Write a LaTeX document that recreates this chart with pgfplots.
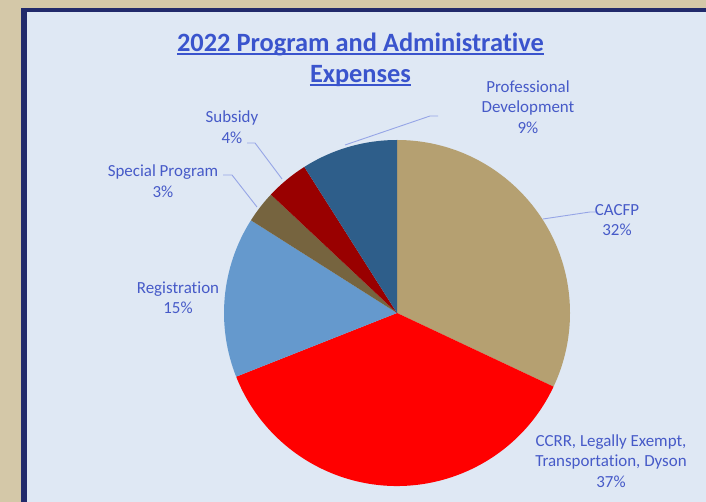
\documentclass[border=0pt]{standalone}
\usepackage{pgfplots}
\pgfplotsset{compat=1.18}
\usepackage{pgfplotstable}
\usepackage{fontspec}
\setmainfont{Carlito}[Ligatures=CommonOff]

\definecolor{frame}{RGB}{212,200,168}
\definecolor{navy}{RGB}{33,42,107}
\definecolor{panel}{RGB}{223,232,244}
\definecolor{titleblue}{RGB}{58,84,205}
\definecolor{labelblue}{RGB}{70,90,200}
\definecolor{leader}{RGB}{150,165,230}
\definecolor{cacfp}{RGB}{181,160,113}
\definecolor{ccrr}{RGB}{255,0,0}
\definecolor{regis}{RGB}{101,153,205}
\definecolor{special}{RGB}{118,100,63}
\definecolor{subsidy}{RGB}{153,0,0}
\definecolor{profdev}{RGB}{46,94,138}

\tikzset{
    lbl/.style={text=labelblue, align=center, inner sep=0pt, font=\fontsize{17}{20.5}\selectfont},
    ttl/.style={text=titleblue, anchor=base, inner sep=0pt, font=\fontsize{26.5}{31}\selectfont\bfseries},
}

% slice shares in percent, clockwise from 12 o'clock
\pgfplotstableread{
pct col
32 cacfp
37 ccrr
15 regis
3 special
4 subsidy
9 profdev
}\piedata

\begin{document}
\begin{tikzpicture}
\begin{axis}[
    scale only axis,
    width=706bp, height=502bp,
    xmin=0, xmax=706, ymin=0, ymax=502,
    hide axis, clip=false,
]
% frame and panel
\fill[frame] (axis cs:0,0) rectangle (axis cs:706,502);
\fill[navy] (axis cs:21,0) rectangle (axis cs:706,494);
\fill[panel] (axis cs:27,0) rectangle (axis cs:706,490);

% slices
\def\angA{90}
\pgfplotsforeachungrouped \i in {0,...,5}{
    \pgfplotstablegetelem{\i}{pct}\of\piedata \let\slicepct=\pgfplotsretval
    \pgfplotstablegetelem{\i}{col}\of\piedata \let\slicecol=\pgfplotsretval
    \pgfmathsetmacro\angB{\angA - 3.6*\slicepct}
    \edef\tmp{\noexpand\fill[\slicecol] (axis cs:397,189) -- ++(\angA:173bp)
        arc[start angle=\angA, end angle=\angB, radius=173bp] -- cycle;}
    \tmp
    \global\let\angA=\angB
}

% leader lines
\draw[leader, line width=0.9bp] (axis cs:345,357) -- (axis cs:430,386) -- (axis cs:438,386);
\draw[leader, line width=0.9bp] (axis cs:543,283) -- (axis cs:590,290) -- (axis cs:598,290);
\draw[leader, line width=0.9bp] (axis cs:223,327) -- (axis cs:232,327) -- (axis cs:257,295);
\draw[leader, line width=0.9bp] (axis cs:247,359) -- (axis cs:255,359) -- (axis cs:282,323);

% labels
\node[lbl] at (axis cs:528,395) {Professional\\Development\\9\%};
\node[lbl] at (axis cs:617,282) {CACFP\\32\%};
\node[lbl] at (axis cs:611,41) {CCRR, Legally Exempt,\\Transportation, Dyson\\37\%};
\node[lbl] at (axis cs:178,204.5) {Registration\\15\%};
\node[lbl] at (axis cs:163,321) {Special Program\\3\%};
\node[lbl] at (axis cs:232,375) {Subsidy\\4\%};

% title
\node[ttl] (t1) at (axis cs:360.5,450.5) {2022 Program and Administrative};
\node[ttl] (t2) at (axis cs:360.5,419.5) {Expenses};
\draw[titleblue, line width=2bp] ([yshift=-3bp]t1.base west) -- ([yshift=-3bp]t1.base east);
\draw[titleblue, line width=2bp] ([yshift=-3bp]t2.base west) -- ([yshift=-3bp]t2.base east);
\end{axis}
\pgfresetboundingbox
\path (0,0) rectangle (706bp,502bp);
\end{tikzpicture}
\end{document}
